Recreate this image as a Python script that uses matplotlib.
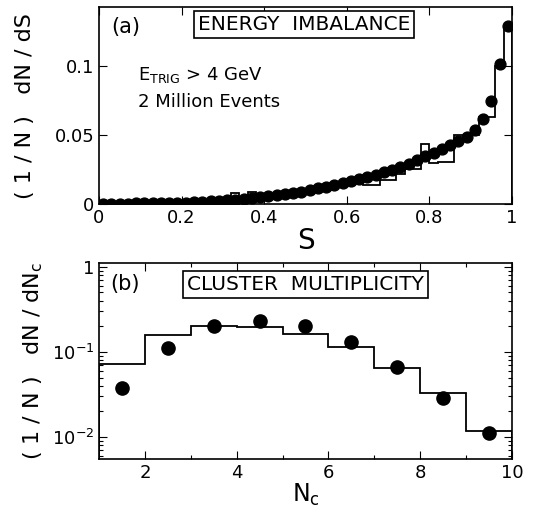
import numpy as np
import matplotlib
matplotlib.use("Agg")
import matplotlib.pyplot as plt
from matplotlib.ticker import FixedLocator, NullFormatter, LogLocator

# ---------------- data: panel (a) energy imbalance ----------------
s_centers = [0.01, 0.03, 0.05, 0.07, 0.09, 0.11, 0.13, 0.15, 0.17, 0.19,
             0.21, 0.23, 0.25, 0.27, 0.29, 0.31, 0.33, 0.35, 0.37, 0.39,
             0.41, 0.43, 0.45, 0.47, 0.49, 0.51, 0.53, 0.55, 0.57, 0.59,
             0.61, 0.63, 0.65, 0.67, 0.69, 0.71, 0.73, 0.75, 0.77, 0.79,
             0.81, 0.83, 0.85, 0.87, 0.89, 0.91, 0.93, 0.95, 0.97, 0.99]
s_data = [0.0003, 0.0003, 0.0004, 0.0004, 0.0005, 0.0005, 0.0006, 0.0007, 0.0008, 0.0009,
          0.0011, 0.0013, 0.0016, 0.0019, 0.0023, 0.0028, 0.0033, 0.0039, 0.0045, 0.0051,
          0.0058, 0.0066, 0.0074, 0.0082, 0.0091, 0.0105, 0.0115, 0.0127, 0.0140, 0.0150,
          0.0165, 0.0180, 0.0195, 0.0210, 0.0230, 0.0250, 0.0270, 0.0290, 0.0320, 0.0350,
          0.0370, 0.0400, 0.0430, 0.0460, 0.0490, 0.0540, 0.0620, 0.0750, 0.1020, 0.1290]
s_edges = [0.00, 0.02, 0.04, 0.06, 0.08, 0.10, 0.12, 0.14, 0.16, 0.18,
           0.20, 0.22, 0.24, 0.26, 0.28, 0.30, 0.32, 0.34, 0.36, 0.38,
           0.40, 0.42, 0.44, 0.46, 0.48, 0.50, 0.52, 0.54, 0.56, 0.58,
           0.60, 0.62, 0.64, 0.66, 0.68, 0.70, 0.72, 0.74, 0.76, 0.78,
           0.80, 0.82, 0.84, 0.86, 0.88, 0.90, 0.92, 0.94, 0.96, 0.98, 1.00]
s_mc = [0.0002, 0.0002, 0.0003, 0.0003, 0.0004, 0.0004, 0.0005, 0.0006, 0.0007, 0.0008,
        0.0010, 0.0012, 0.0014, 0.0017, 0.0021, 0.0025, 0.0080, 0.0040, 0.0090, 0.0030,
        0.0050, 0.0060, 0.0070, 0.0078, 0.0087, 0.0097, 0.0108, 0.0118, 0.0130, 0.0140,
        0.0152, 0.0165, 0.0138, 0.0138, 0.0174, 0.0174, 0.0222, 0.0258, 0.0258, 0.0435,
        0.0295, 0.0307, 0.0307, 0.0500, 0.0500, 0.0500, 0.0630, 0.0630, 0.1000, 0.1280]

# ---------------- data: panel (b) cluster multiplicity ----------------
nc_centers = [1.5, 2.5, 3.5, 4.5, 5.5, 6.5, 7.5, 8.5, 9.5]
nc_data = [0.038, 0.112, 0.200, 0.234, 0.200, 0.130, 0.066, 0.029, 0.011]
nc_edges = [1, 2, 3, 4, 5, 6, 7, 8, 9, 10]
nc_mc = [0.072, 0.160, 0.200, 0.198, 0.164, 0.114, 0.065, 0.0327, 0.0118]

plt.rcParams['font.family'] = ['DejaVu Sans']
fig = plt.figure(figsize=(5.36, 5.09), dpi=100)

ax1 = fig.add_axes([0.1847, 0.599, 0.7705, 0.387])
ax2 = fig.add_axes([0.1847, 0.0982, 0.7705, 0.385])

for ax in (ax1, ax2):
    for sp in ax.spines.values():
        sp.set_linewidth(1.2)
    ax.tick_params(which='both', direction='in', top=True, right=True,
                   labelsize=13, width=0.8)
    ax.tick_params(which='major', length=6)
    ax.tick_params(which='minor', length=3)

# panel (a)
ax1.stairs(s_mc, s_edges, color='black', lw=1.3)
ax1.plot(s_centers, s_data, 'o', color='black', ms=7.8, mec='black')
ax1.set_xlim(0, 1)
ax1.set_ylim(0, 0.143)
ax1.xaxis.set_major_locator(FixedLocator([0, 0.2, 0.4, 0.6, 0.8, 1.0]))
ax1.set_xticklabels(['0', '0.2', '0.4', '0.6', '0.8', '1'])
ax1.yaxis.set_major_locator(FixedLocator([0, 0.05, 0.1]))
ax1.set_yticklabels(['0', '0.05', '0.1'])
ax1.set_xlabel('S', fontsize=20, labelpad=0)
ax1.set_ylabel('( 1 / N )   dN / dS', fontsize=16, labelpad=14)
ax1.text(0.03, 0.87, '(a)', transform=ax1.transAxes, fontsize=15)
ax1.text(0.496, 0.91, 'ENERGY  IMBALANCE', transform=ax1.transAxes,
         fontsize=14.5, ha='center', va='center',
         bbox=dict(boxstyle='square,pad=0.2', fc='white', ec='black', lw=1.2))
ax1.text(0.095, 0.655, r'E$_{\mathregular{TRIG}}$ > 4 GeV', transform=ax1.transAxes,
         fontsize=13, va='center')
ax1.text(0.095, 0.52, '2 Million Events', transform=ax1.transAxes,
         fontsize=13, va='center')

# panel (b)
ax2.stairs(nc_mc, nc_edges, color='black', lw=1.3)
ax2.plot(nc_centers, nc_data, 'o', color='black', ms=9.5)
ax2.set_yscale('log')
ax2.set_xlim(1, 10)
ax2.set_ylim(0.0055, 1.11)
ax2.xaxis.set_major_locator(FixedLocator([2, 4, 6, 8, 10]))
ax2.set_xticklabels(['2', '4', '6', '8', '10'])
ax2.xaxis.set_minor_locator(FixedLocator([3, 5, 7, 9]))
ax2.yaxis.set_major_locator(FixedLocator([0.01, 0.1, 1]))
ax2.set_yticklabels([r'10$^{-2}$', r'10$^{-1}$', '1'])
ax2.yaxis.set_minor_locator(LogLocator(base=10, subs=np.arange(2, 10)))
ax2.yaxis.set_minor_formatter(NullFormatter())
ax2.set_xlabel(r'N$_\mathregular{c}$', fontsize=17, labelpad=0)
ax2.set_ylabel(r'( 1 / N )   dN / dN$_\mathregular{c}$', fontsize=16, labelpad=5)
ax2.text(0.027, 0.86, '(b)', transform=ax2.transAxes, fontsize=15)
ax2.text(0.50, 0.89, 'CLUSTER  MULTIPLICITY', transform=ax2.transAxes,
         fontsize=14.5, ha='center', va='center',
         bbox=dict(boxstyle='square,pad=0.2', fc='white', ec='black', lw=1.2))

fig.savefig('out.png', dpi=100)
